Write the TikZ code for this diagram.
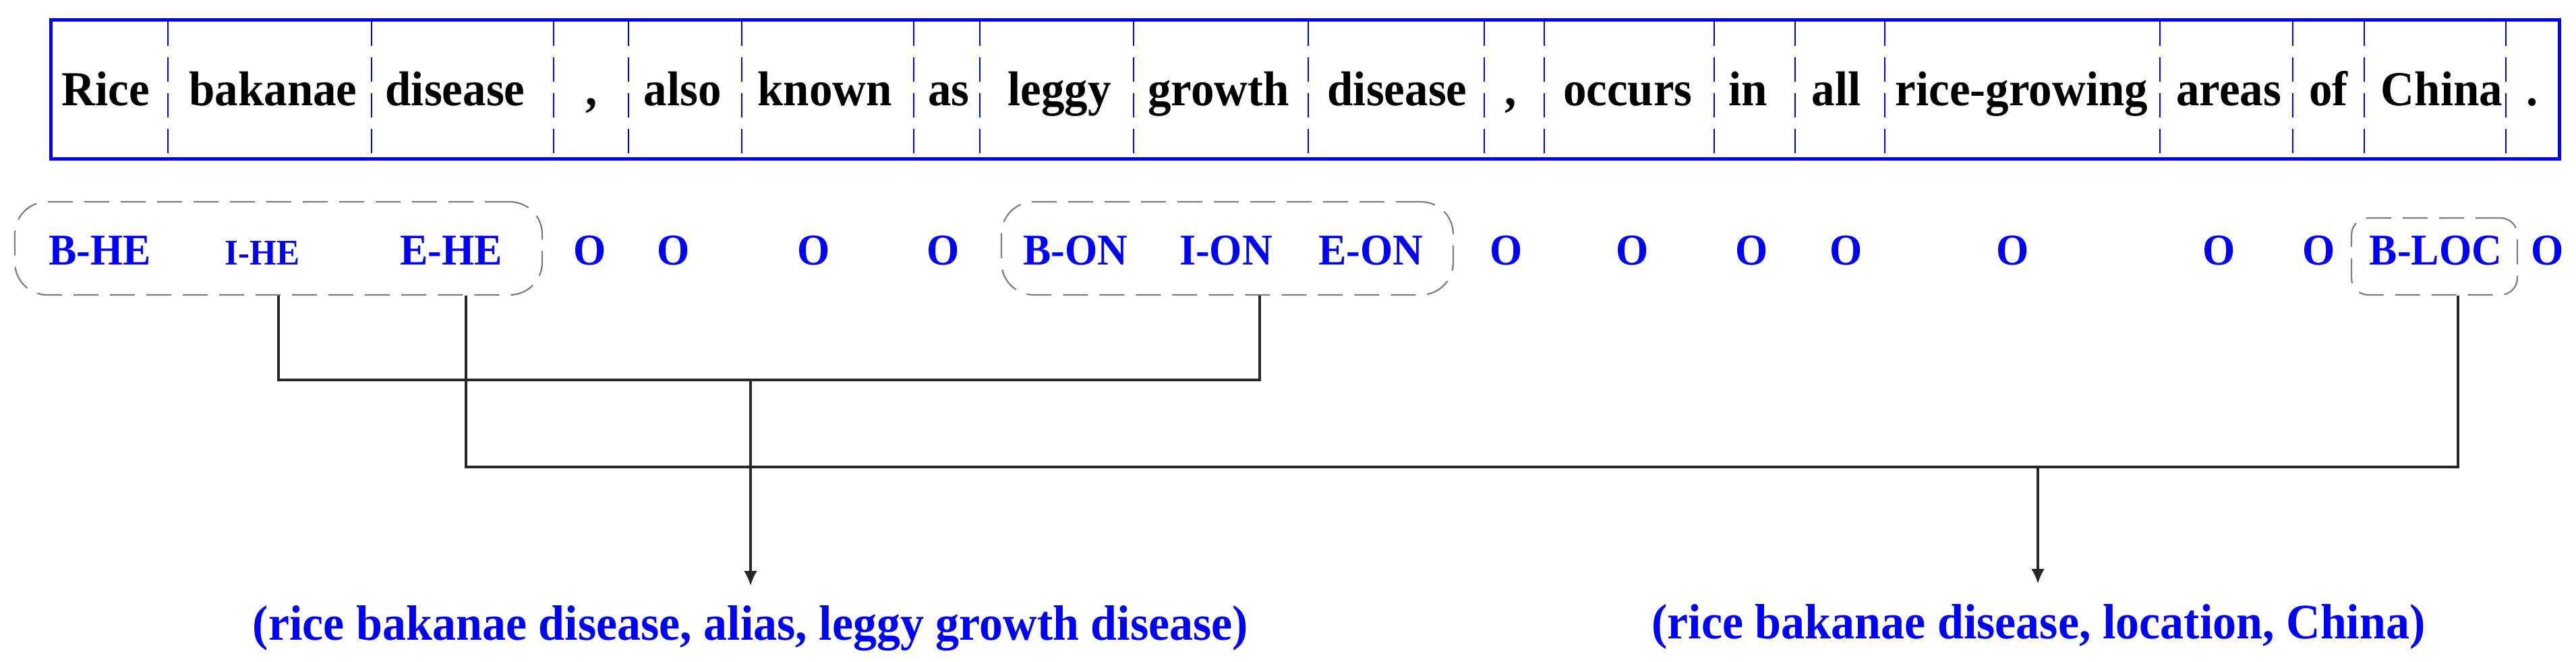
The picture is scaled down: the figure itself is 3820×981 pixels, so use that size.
\documentclass[tikz,border=0pt]{standalone}
\usepackage{fontspec}
\setmainfont{Liberation Serif}
\usetikzlibrary{arrows.meta}
\definecolor{tblue}{RGB}{0,0,255}
\definecolor{boxgray}{RGB}{125,125,125}
\definecolor{linegray}{RGB}{40,40,40}
\newcommand{\vst}[1]{\scalebox{1}[1.05]{#1}}
\begin{document}
\begin{tikzpicture}[x=1pt,y=-1pt,
  wordtxt/.style={anchor=base,inner sep=0pt,font=\fontsize{69}{80}\selectfont\bfseries},
  tagtxt/.style={anchor=base,inner sep=0pt,text=tblue,font=\fontsize{62}{72}\selectfont\bfseries},
  tagsmall/.style={anchor=base,inner sep=0pt,text=tblue,font=\fontsize{51}{60}\selectfont\bfseries},
  tripletxt/.style={anchor=base,inner sep=0pt,text=tblue,font=\fontsize{70}{80}\selectfont\bfseries},
  sentbox/.style={draw=tblue,line width=5pt,minimum width=3720pt,minimum height=206pt,inner sep=0pt},
  divline/.style={draw=tblue,line width=2.5pt,dash pattern=on 36pt off 17pt},
  grpbox/.style={draw=boxgray,line width=2.2pt,dash pattern=on 37pt off 17pt,inner sep=0pt},
  linkline/.style={draw=linegray,line width=3.5pt},
  arrline/.style={linkline,-{Latex[length=22pt,width=20pt]}}
]
\path[use as bounding box] (0,0) rectangle (3820,981);

% sentence box
\node[sentbox] (sent) at (1935,133) {};
\foreach \x in {249,551,821,932,1100,1355,1453,1681,1940,2201,2290,2542,2662,2795,3203,3400,3506,3716}
  \draw[divline] (\x,32.5) -- (\x,233.5);

% words
\foreach \x/\t [count=\i] in {157/Rice,405/bakanae,675/disease,877/{,},1012/also,1223/known,1407/as,1571/leggy,1807/growth,2072/disease,2240/{,},2414/occurs,2592/in,2723/all,2998/rice-growing,3305/areas,3453/of,3621/China,3755/.}
  \node[wordtxt] (w\i) at (\x,157) {\vst{\t}};

% tags
\node[tagtxt] (l1) at (148,392) {\vst{B-HE}};
\node[tagsmall] (l2) at (389,392) {\vst{I-HE}};
\node[tagtxt] (l3) at (669,392) {\vst{E-HE}};
\node[tagtxt] (l4) at (875,392) {\vst{O}};
\node[tagtxt] (l5) at (999,392) {\vst{O}};
\node[tagtxt] (l6) at (1207,392) {\vst{O}};
\node[tagtxt] (l7) at (1399,392) {\vst{O}};
\node[tagtxt] (l8) at (1595,392) {\vst{B-ON}};
\node[tagtxt] (l9) at (1818,392) {\vst{I-ON}};
\node[tagtxt] (l10) at (2033,392) {\vst{E-ON}};
\node[tagtxt] (l11) at (2234,392) {\vst{O}};
\node[tagtxt] (l12) at (2421,392) {\vst{O}};
\node[tagtxt] (l13) at (2598,392) {\vst{O}};
\node[tagtxt] (l14) at (2738,392) {\vst{O}};
\node[tagtxt] (l15) at (2985,392) {\vst{O}};
\node[tagtxt] (l16) at (3291,392) {\vst{O}};
\node[tagtxt] (l17) at (3439,392) {\vst{O}};
\node[tagtxt] (l18) at (3612,392) {\vst{B-LOC}};
\node[tagtxt] (l19) at (3778,392) {\vst{O}};

% group boxes
\node[grpbox,rounded corners=48pt,minimum width=782pt,minimum height=138pt] (hebox) at (413,368) {};
\node[grpbox,rounded corners=48pt,minimum width=670pt,minimum height=138pt] (onbox) at (1820,368) {};
\node[grpbox,rounded corners=25pt,minimum width=246pt,minimum height=114pt] (locbox) at (3610,380) {};

% triples
\node[tripletxt] (t1) at (1113,948) {\vst{(rice bakanae disease, alias, leggy growth disease)}};
\node[tripletxt] (t2) at (3023,946) {\vst{(rice bakanae disease, location, China)}};

% connectors
\coordinate (j1) at (413,563);
\coordinate (j2) at (1868,563);
\coordinate (j3) at (691,692);
\coordinate (j4) at (3645,692);
\coordinate (a1) at (1113,563);
\coordinate (a2) at (3022,692);
\draw[linkline] (j1 |- hebox.south) -- (j1) -- (j2) -- (j2 |- onbox.south);
\draw[linkline] (j3 |- hebox.south) -- (j3) -- (j4) -- (j4 |- locbox.south);
\draw[arrline] (a1) -- (1113,868);
\draw[arrline] (a2) -- (3022,865);
\end{tikzpicture}
\end{document}
